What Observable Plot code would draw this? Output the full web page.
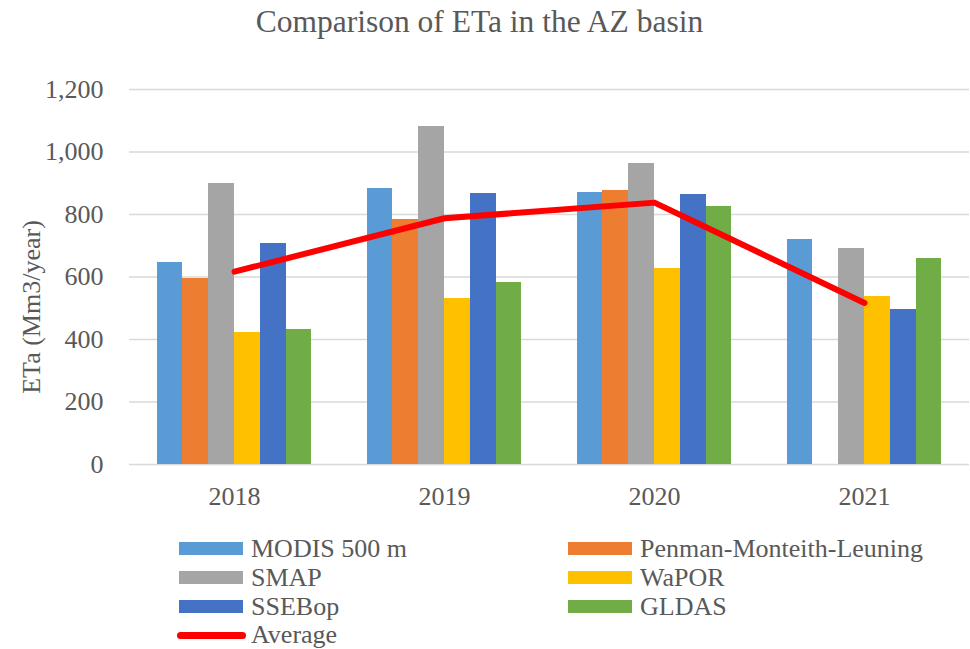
<!DOCTYPE html>
<html><head><meta charset="utf-8">
<script src="https://cdn.jsdelivr.net/npm/d3@7"></script>
<script src="https://cdn.jsdelivr.net/npm/@observablehq/plot@0.6"></script>
<style>
body{margin:0;background:#fff;width:970px;font-family:"Liberation Serif","Times New Roman",serif;color:#595959;overflow:hidden}
#title{height:50px;box-sizing:border-box;padding-top:4px;padding-right:11px;text-align:center;font-size:31.5px;line-height:35px;}
#legend{position:relative;height:129px}
.item{position:absolute;display:flex;align-items:center;font-size:26px;line-height:26px;height:26px;white-space:nowrap}
.sw{width:64px;height:13px;margin-right:8px}
.ln{width:69px;height:7px;border-radius:4px;margin-right:5px;background:#FF0000}
</style></head><body>
<div id="title">Comparison of ETa in the AZ basin</div>
<div id="chart"></div>
<div id="legend"></div>
<script>
const years = [2018, 2019, 2020, 2021];
const seriesNames = ["MODIS 500 m", "Penman-Monteith-Leuning", "SMAP", "WaPOR", "SSEBop", "GLDAS"];
const seriesColors = ["#5B9BD5", "#ED7D31", "#A5A5A5", "#FFC000", "#4472C4", "#70AD47"];
const modis = [646, 883, 870, 720];
const pml = [595, 784, 877, 0];
const smap = [899, 1081, 963, 691];
const wapor = [422, 531, 627, 537];
const ssebop = [707, 867, 864, 495];
const gldas = [431, 582, 825, 659];
const average = [617, 788, 838, 517];
const averageName = "Average";
const yTicks = [0, 200, 400, 600, 800, 1000, 1200];
const yLabel = "ETa (Mm3/year)";

const seriesValues = [modis, pml, smap, wapor, ssebop, gldas];
const rows = [];
seriesNames.forEach((s, k) => years.forEach((y, i) => rows.push({year: y, series: s, k, value: seriesValues[k][i]})));
const avgRows = years.map((y, i) => ({year: y, value: average[i]}));
const bw = 0.123;

const chart = Plot.plot({
  width: 970, height: 470, marginTop: 39, marginBottom: 56, marginLeft: 129, marginRight: 1,
  style: {fontFamily: '"Liberation Serif", "Times New Roman", serif', fontSize: "26px", color: "#595959", background: "white", overflow: "visible"},
  x: {type: "linear", domain: [2017.5, 2021.5], ticks: years, tickFormat: d => String(d), tickSize: 0, tickPadding: 22, label: null},
  y: {domain: [0, 1200], ticks: yTicks, tickFormat: d3.format(","), tickSize: 0, tickPadding: 26, label: null},
  color: {domain: seriesNames, range: seriesColors},
  marks: [
    Plot.ruleY(yTicks, {stroke: "#D9D9D9", strokeWidth: 1.5}),
    Plot.rectY(rows, {x1: d => d.year + (d.k - 3) * bw, x2: d => d.year + (d.k - 2) * bw, y1: 0, y2: "value", fill: "series", shapeRendering: "crispEdges"}),
    Plot.line(avgRows, {x: "year", y: "value", stroke: "#FF0000", strokeWidth: 6, strokeLinecap: "round", strokeLinejoin: "round"}),
    Plot.text([yLabel], {frameAnchor: "left", textAnchor: "middle", lineAnchor: "middle", text: d => d, rotate: -90, dx: -98, dy: 30, fill: "#595959", fontSize: 26})
  ]
});
document.getElementById("chart").appendChild(chart);

const legend = document.getElementById("legend");
const items = seriesNames.map((s, k) => ({name: s, color: seriesColors[k], line: false}));
items.push({name: averageName, color: "#FF0000", line: true});
const rowCenters = [28.5, 57.5, 86.5, 115];
items.forEach((it, i) => {
  const row = Math.floor(i / 2), col = i % 2;
  const el = document.createElement("div");
  el.className = "item";
  el.style.left = (it.line ? 177 : (col === 0 ? 179 : 568)) + "px";
  el.style.top = (rowCenters[row] - 13) + "px";
  const sw = document.createElement("div");
  sw.className = it.line ? "ln" : "sw";
  if (!it.line) sw.style.background = it.color;
  const tx = document.createElement("span");
  tx.textContent = it.name;
  el.appendChild(sw); el.appendChild(tx);
  legend.appendChild(el);
});
</script>
</body></html>
